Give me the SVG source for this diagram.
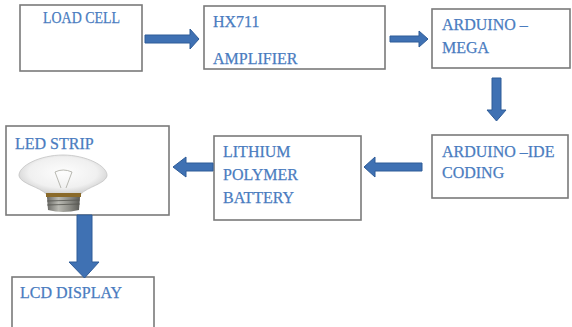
<svg xmlns="http://www.w3.org/2000/svg" width="572" height="327" viewBox="0 0 572 327">
  <style>
    .box { fill: #ffffff; stroke: #7a7a7a; stroke-width: 1.6; }
    .lbl { font-family: "Liberation Serif", "Times New Roman", serif; font-size: 16px; fill: #4a7cbf; stroke: #4a7cbf; stroke-width: 0.25; }
    .arr { fill: #3f71b3; stroke: #2f5c98; stroke-width: 1; }
  </style>
  <defs>
    <radialGradient id="glass" cx="0.5" cy="0.45" r="0.6">
      <stop offset="0" stop-color="#fdfdfd"/>
      <stop offset="0.65" stop-color="#f0f0f0"/>
      <stop offset="1" stop-color="#c9c9c9"/>
    </radialGradient>
    <linearGradient id="screw" x1="0" y1="0" x2="1" y2="0">
      <stop offset="0" stop-color="#6a6a66"/>
      <stop offset="0.35" stop-color="#b9b9b2"/>
      <stop offset="0.7" stop-color="#8a8a84"/>
      <stop offset="1" stop-color="#5a5a56"/>
    </linearGradient>
  </defs>
  <rect width="572" height="327" fill="#ffffff"/>

  <g id="load-cell">
    <rect class="box" x="20" y="5" width="122" height="66"/>
    <text class="lbl" x="43" y="23" textLength="77" lengthAdjust="spacingAndGlyphs">LOAD CELL</text>
  </g>

  <g id="hx711">
    <rect class="box" x="204" y="6" width="181" height="63"/>
    <text class="lbl" x="213" y="27">HX711</text>
    <text class="lbl" x="213" y="64">AMPLIFIER</text>
  </g>

  <g id="arduino-mega">
    <rect class="box" x="432" y="9" width="138" height="59"/>
    <text class="lbl" x="442" y="30">ARDUINO –</text>
    <text class="lbl" x="442" y="53">MEGA</text>
  </g>

  <g id="arduino-ide">
    <rect class="box" x="432" y="135" width="136" height="63"/>
    <text class="lbl" x="442" y="157">ARDUINO –IDE</text>
    <text class="lbl" x="442" y="178">CODING</text>
  </g>

  <g id="battery">
    <rect class="box" x="214" y="136" width="147" height="84"/>
    <text class="lbl" x="223" y="157">LITHIUM</text>
    <text class="lbl" x="223" y="180">POLYMER</text>
    <text class="lbl" x="223" y="203">BATTERY</text>
  </g>

  <g id="led-strip">
    <rect class="box" x="6" y="126" width="163" height="89"/>
    <text class="lbl" x="15" y="149">LED STRIP</text>
    <!-- light bulb -->
    <g id="bulb">
      <path d="M46,194 C40,187 21,184 19,176 C18,166 40,155 63,155 C86,155 108,166 107,176 C105,184 87,187 81,194 Z" fill="url(#glass)" stroke="#c4c4c4" stroke-width="0.8"/>
      <path d="M55,172 L61,188 M72,172 L66,188 M55,172 Q63,168 72,172" fill="none" stroke="#a8a8a0" stroke-width="0.8"/>
      <rect x="46" y="193" width="35" height="4" fill="#8a6a2a"/>
      <path d="M47,197 L80,197 L79,210 Q63,214 48,210 Z" fill="url(#screw)"/>
      <path d="M47,201 L80,200 M47,205 L80,204" stroke="#55554f" stroke-width="0.8"/>
    </g>
  </g>

  <g id="lcd-display">
    <rect class="box" x="12" y="277" width="142" height="60"/>
    <text class="lbl" x="20" y="298">LCD DISPLAY</text>
  </g>

  <g id="connectors">
    <!-- load cell to hx711 -->
    <path class="arr" d="M145,35 L190,35 L190,29 L199,39 L190,49 L190,43 L145,43 Z"/>
    <!-- hx711 to arduino mega -->
    <path class="arr" d="M390,36 L419,36 L419,31 L428,39 L419,47 L419,42 L390,42 Z"/>
    <!-- arduino mega down to ide -->
    <path class="arr" d="M492,78 L501,78 L501,110 L506,110 L496.5,121 L487,110 L492,110 Z"/>
    <!-- ide to battery -->
    <path class="arr" d="M422,163 L375,163 L375,157 L364,167 L375,177 L375,171 L422,171 Z"/>
    <!-- battery to led strip -->
    <path class="arr" d="M213,163 L186,163 L186,157 L173,167 L186,177 L186,171 L213,171 Z"/>
    <!-- led strip to lcd -->
    <path class="arr" d="M77,215 L92,215 L92,262 L99,262 L84.5,278 L69,262 L77,262 Z"/>
  </g>
</svg>
